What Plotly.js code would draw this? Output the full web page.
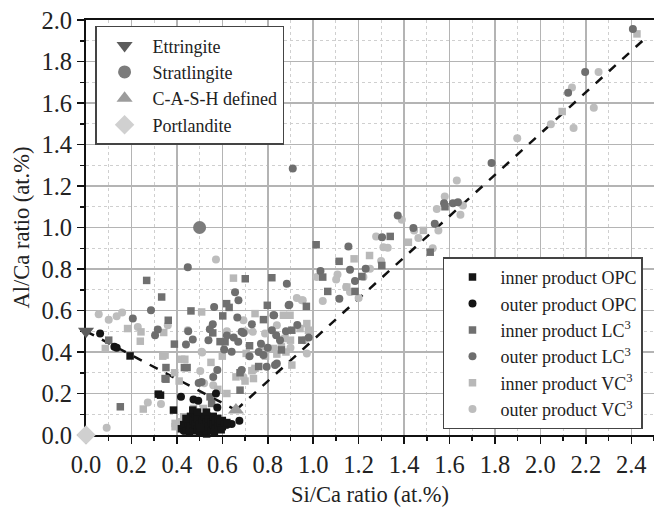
<!DOCTYPE html>
<html>
<head>
<meta charset="utf-8">
<script src="https://cdn.plot.ly/plotly-3.0.1.min.js"></script>
<style>html,body{margin:0;padding:0;background:#fff;}#chart{width:654px;height:507px;}</style>
</head>
<body>
<div id="chart"></div>
<script>
// ---- reference phases ----
const refNames = ["Ettringite", "Stratlingite", "C-A-S-H defined", "Portlandite"];
const refX = [0.0, 0.5, 0.66, 0.0];
const refY = [0.5, 1.0, 0.12, 0.0];

// ---- dashed guide lines ----
const line1X = [0.0, 0.66];
const line1Y = [0.5, 0.12];
const line2X = [0.66, 2.47];
const line2Y = [0.12, 1.92];

// ---- inner product OPC ----
const innerOPC_x = [0.194,0.318,0.328,0.385,0.531,0.42,0.43,0.44,0.45,0.46,0.46,0.47,0.47,0.48,0.48,0.49,0.49,0.50,0.50,0.51,0.51,0.52,0.52,0.53,0.53,0.54,0.54,0.55,0.55,0.56,0.56,0.57,0.57,0.58,0.58,0.59,0.60,0.60,0.61,0.62,0.44,0.47,0.49,0.53,0.455,0.505,0.565,0.595];
const innerOPC_y = [0.381,0.197,0.192,0.120,0.005,0.03,0.05,0.02,0.06,0.04,0.09,0.02,0.07,0.05,0.10,0.03,0.08,0.05,0.01,0.07,0.03,0.09,0.04,0.06,0.02,0.08,0.04,0.06,0.02,0.05,0.09,0.03,0.07,0.04,0.08,0.06,0.04,0.07,0.05,0.06,0.08,0.12,0.11,0.11,0.015,0.035,0.015,0.025];

// ---- outer product OPC ----
const outerOPC_x = [0.062,0.125,0.135,0.418,0.473,0.494,0.572,0.578,0.675,0.641,0.45,0.47,0.50,0.52,0.55,0.58,0.60,0.62,0.43,0.48,0.56,0.53,0.54];
const outerOPC_y = [0.489,0.425,0.421,0.184,0.171,0.165,0.200,0.133,0.069,0.053,0.03,0.05,0.02,0.06,0.04,0.05,0.06,0.05,0.02,0.08,0.07,0.03,0.09];

// ---- inner product LC3 ----
const innerLC3_x = [1.013,1.339,1.114,1.302,1.042,1.214,1.064,1.184,1.515,0.818,0.701,0.798,0.619,0.630,0.602,0.781,0.906,0.950,0.558,0.612,0.590,0.678,0.678,0.267,0.333,0.462,0.362,0.389,0.433,0.445,0.352,0.352,0.151,0.100,0.553,0.546,0.348,1.580,0.720,0.860,0.760,0.970];
const innerLC3_y = [0.917,0.957,0.837,0.817,0.761,0.764,0.692,0.692,0.881,0.758,0.753,0.625,0.633,0.615,0.574,0.556,0.505,0.457,0.492,0.449,0.450,0.300,0.216,0.745,0.665,0.598,0.553,0.438,0.325,0.325,0.325,0.269,0.136,0.457,0.152,0.184,0.272,1.100,0.430,0.410,0.330,0.620];

// ---- outer product LC3 ----
const outerLC3_x = [2.407,2.197,2.122,1.785,1.576,1.615,1.637,1.372,1.535,1.441,1.303,1.155,1.162,1.231,1.032,1.184,1.115,0.910,0.884,0.895,0.825,0.730,0.818,0.837,0.854,0.781,0.832,0.795,0.685,0.685,0.448,0.656,0.671,0.892,0.564,0.666,0.828,0.558,0.545,0.693,0.620,0.650,0.539,0.670,0.608,0.641,0.578,0.509,0.560,0.286,0.206,0.316,0.304,0.440,0.496,0.450,0.470,0.840,0.770,0.760,0.800,0.720,0.880,0.930,0.980];
const outerLC3_y = [1.957,1.750,1.650,1.311,1.117,1.117,1.122,1.058,1.018,0.998,0.953,0.909,0.796,0.801,0.790,0.742,0.657,1.284,0.729,0.628,0.577,0.534,0.505,0.481,0.457,0.385,0.337,0.329,0.497,0.313,0.809,0.688,0.649,0.625,0.617,0.566,0.577,0.534,0.510,0.492,0.480,0.470,0.457,0.450,0.412,0.401,0.313,0.256,0.280,0.601,0.561,0.508,0.481,0.436,0.251,0.500,0.460,0.345,0.440,0.400,0.420,0.380,0.500,0.530,0.470];

// ---- inner product VC3 ----
const innerVC3_x = [2.425,2.096,1.485,1.419,1.248,1.180,1.148,0.649,0.509,0.744,0.869,0.898,0.972,0.942,0.979,0.876,0.900,0.773,0.825,0.860,0.790,0.840,0.880,0.744,0.730,0.737,0.906,0.705,0.660,0.700,0.183,0.242,0.239,0.342,0.348,0.338,0.421,0.435,0.390,0.410,0.252,0.085,0.392,0.414,0.392,0.430,0.473,0.517,0.502,0.550,0.600,0.620,0.580];
const innerVC3_y = [1.933,1.559,0.986,0.929,0.865,0.849,0.713,0.756,0.593,0.585,0.577,0.577,0.537,0.513,0.505,0.465,0.457,0.425,0.417,0.425,0.380,0.390,0.400,0.321,0.310,0.272,0.337,0.393,0.280,0.260,0.513,0.497,0.452,0.494,0.385,0.380,0.365,0.365,0.300,0.260,0.125,0.417,0.040,0.064,0.056,0.088,0.128,0.128,0.112,0.350,0.380,0.200,0.220];

// ---- outer product VC3 ----
const outerVC3_x = [2.256,2.139,2.235,2.046,2.146,1.898,1.632,1.579,1.659,1.648,1.544,1.390,1.444,1.551,1.463,1.526,1.277,1.309,1.328,1.299,1.250,1.221,1.107,1.101,1.016,1.145,1.162,1.042,0.954,0.928,0.950,0.840,0.734,0.788,0.960,0.972,0.693,0.693,0.572,0.737,0.509,0.056,0.100,0.135,0.159,0.228,0.360,0.448,0.511,0.503,0.272,0.330,0.091,0.520,0.560,0.700,0.620,0.900,1.200];
const outerVC3_y = [1.750,1.675,1.577,1.497,1.479,1.430,1.226,1.149,1.106,1.061,1.089,1.037,0.986,0.986,0.950,0.900,0.957,0.905,0.902,0.838,0.801,0.761,0.774,0.749,0.761,0.713,0.689,0.646,0.649,0.660,0.649,0.529,0.497,0.489,0.457,0.393,0.553,0.280,0.846,0.313,0.401,0.582,0.556,0.572,0.590,0.521,0.529,0.505,0.397,0.308,0.157,0.149,0.035,0.250,0.240,0.500,0.500,0.420,0.660];

const xTickVals = [0.0,0.2,0.4,0.6,0.8,1.0,1.2,1.4,1.6,1.8,2.0,2.2,2.4];
const yTickVals = [0.0,0.2,0.4,0.6,0.8,1.0,1.2,1.4,1.6,1.8,2.0];

const serif = "Liberation Serif, Times New Roman, serif";

function series(name, x, y, symbol, color, size, rank) {
  return {type:'scatter', mode:'markers', name:name, x:x, y:y, legend:'legend2', legendrank:rank,
    marker:{symbol:symbol, color:color, size:size, line:{width:0}}, cliponaxis:false};
}

const traces = [
  {type:'scatter', mode:'lines', x:line1X, y:line1Y, showlegend:false, line:{color:'#111', width:2.5, dash:'dash'}, hoverinfo:'skip'},
  {type:'scatter', mode:'lines', x:line2X, y:line2Y, showlegend:false, line:{color:'#111', width:2.5, dash:'dash'}, hoverinfo:'skip'},
  series('outer product VC<sup>3</sup>', outerVC3_x, outerVC3_y, 'circle', '#bdbdbd', 8, 6),
  series('inner product VC<sup>3</sup>', innerVC3_x, innerVC3_y, 'square', '#b8b8b8', 7.5, 5),
  series('outer product LC<sup>3</sup>', outerLC3_x, outerLC3_y, 'circle', '#6e6e6e', 8, 4),
  series('inner product LC<sup>3</sup>', innerLC3_x, innerLC3_y, 'square', '#707070', 7.5, 3),
  series('outer product OPC', outerOPC_x, outerOPC_y, 'circle', '#151515', 8, 2),
  series('inner product OPC', innerOPC_x, innerOPC_y, 'square', '#151515', 7.5, 1)
];
const refSymbols = ['triangle-down','circle','triangle-up','diamond'];
const refColors = ['#5c5c5c','#7c7c7c','#9c9c9c','#d0d0d0'];
const refSizes = [14,13,14,15];
for (let i = 0; i < refNames.length; i++) {
  traces.push({type:'scatter', mode:'markers', name:refNames[i], x:[refX[i]], y:[refY[i]], legend:'legend',
    marker:{symbol:refSymbols[i], color:refColors[i], size:refSizes[i], line:{width:0}}, cliponaxis:false});
}

const axisCommon = {
  showline:true, linecolor:'#111', linewidth:2, mirror:true,
  ticks:'outside', ticklen:7, tickwidth:1.5, tickcolor:'#111',
  showgrid:true, gridcolor:'#b4b4b4', gridwidth:1.5,
  zeroline:false, layer:'below traces',
  tickfont:{family:serif, size:24.5, color:'#222'},
  tickformat:'.1f'
};

const layout = {
  width:654, height:507,
  margin:{l:86, r:0, t:20, b:72, pad:0},
  paper_bgcolor:'#fff', plot_bgcolor:'#fff',
  font:{family:serif, color:'#222'},
  xaxis:Object.assign({}, axisCommon, {
    range:[0, 2.5], tickvals:xTickVals,
    minor:{dtick:0.1, tick0:0, showgrid:true, gridcolor:'#cfcfcf', griddash:'dot', gridwidth:1, ticks:'outside', ticklen:4, tickcolor:'#111'},
    title:{text:'Si/Ca ratio (at.%)', font:{family:serif, size:22.5, color:'#222'}, standoff:10}
  }),
  yaxis:Object.assign({}, axisCommon, {
    range:[0, 2.0], tickvals:yTickVals,
    minor:{dtick:0.1, tick0:0, showgrid:true, gridcolor:'#cfcfcf', griddash:'dot', gridwidth:1, ticks:'outside', ticklen:4, tickcolor:'#111'},
    title:{text:'Al/Ca ratio (at.%)', font:{family:serif, size:22.5, color:'#222'}, standoff:6}
  }),
  legend:{x:0.016, y:0.986, xanchor:'left', yanchor:'top', bgcolor:'#fff', bordercolor:'#444', borderwidth:1.5,
    font:{family:serif, size:18, color:'#222'}, itemwidth:46, tracegroupgap:0},
  legend2:{x:0.6285, y:0.428, xanchor:'left', yanchor:'top', bgcolor:'#fff', bordercolor:'#444', borderwidth:1.5,
    font:{family:serif, size:18, color:'#222'}, itemwidth:46, tracegroupgap:0},
  showlegend:true
};

Plotly.newPlot('chart', traces, layout, {staticPlot:true, displayModeBar:false});
</script>
</body>
</html>
